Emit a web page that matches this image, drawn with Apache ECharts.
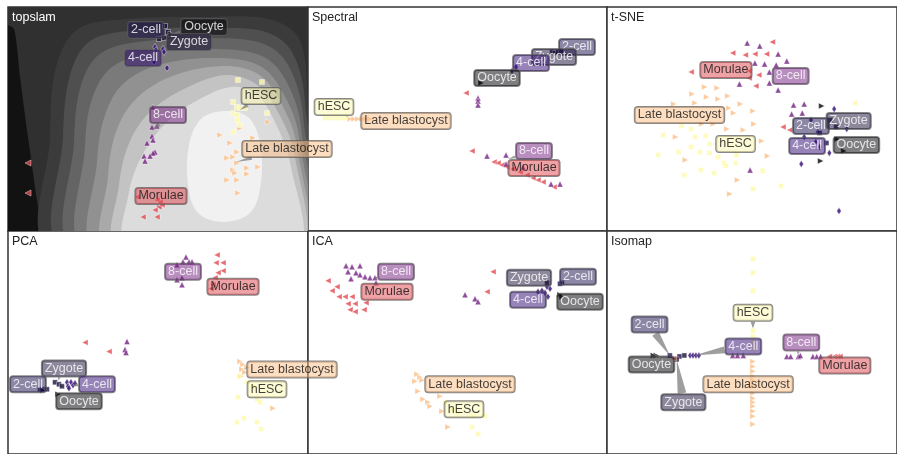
<!DOCTYPE html>
<html>
<head>
<meta charset="utf-8">
<script src="https://cdn.jsdelivr.net/npm/echarts@6/dist/echarts.min.js"></script>
<style>
  html, body { margin: 0; padding: 0; background: #fff; }
  #chart { width: 897px; height: 454px; }
</style>
</head>
<body>
<div id="chart"></div>
<script>
// Developmental stages and their colours (magma-like ramp)
const stages = ['Oocyte', 'Zygote', '2-cell', '4-cell', '8-cell', 'Morulae', 'Late blastocyst', 'hESC'];
const stageColors = ['#000004', '#1b1238', '#1d124f', '#300a72', '#721f81', '#e0474f', '#fbbd85', '#fcfaae'];
const stageTextColors = ['#fff', '#fff', '#fff', '#fff', '#fff', '#111', '#111', '#111'];
// marker shape per stage: [symbol, rotation]
const stageMarkers = [['triangle', -90], ['rect', 0], ['rect', 0], ['diamond', 0], ['triangle', 0], ['triangle', 90], ['triangle', -90], ['rect', 0]];

const panelTitles = ['topslam', 'Spectral', 't-SNE', 'PCA', 'ICA', 'Isomap'];

// Embedded cells per method: [stageIndex, x, y]
const topslamCells = [
  [2,157,19],[2,160,25],[1,151,32],[1,156,31],[0,163,27],
  [3,147,40],[3,148,43],[3,155,42],[3,156,45],[3,159,61],[3,146,55],
  [4,145,100],[4,144,120],[4,149,119],[4,144,129],[4,145,133],[4,139,136],[4,147,145],[4,145,146],[4,142,149],[4,136,149],[4,137,154],
  [5,20,156],[5,20,186],[5,149,193],[5,152,195],[5,147,203],[5,151,200],[5,135,210],[5,149,210],[5,129,190],[5,154,198],
  [6,260,115],[6,212,128],[6,222,136],[6,229,145],[6,225,150],[6,219,151],[6,229,156],[6,239,161],[6,225,163],[6,227,166],[6,239,167],[6,219,173],[6,229,173],[6,250,160],[6,230,186],[6,245,131],[6,232,121],
  [7,230,73],[7,254,75],[7,225,95],[7,229,100],[7,232,101],[7,237,101],[7,225,106],[7,229,108],[7,259,106],[7,229,113],[7,225,125],[7,232,118]
];
const spectralCells = [
  [0,173,76],[3,204,64],[3,208,60],[1,244,45],[1,247,46],[2,250,45],[2,253,44],
  [5,158,86],[5,164,144],[5,186,155],[5,190,156],[5,194,158],[5,199,160],[5,205,162],[5,212,165],[5,219,168],[5,225,171],[5,230,173],[5,235,175],[5,246,180],
  [4,170,91],[4,170,94],[4,170,98],[4,179,149],[4,198,148],[4,198,157],[4,243,177],[4,252,177],[4,215,160],
  [6,42,112],[6,46,112],[6,50,112],[6,54,112],[6,58,112],[6,62,112],
  [7,17,111],[7,21,111],[7,25,111],[7,29,111],[7,33,111],[7,37,111]
];
const tsneCells = [
  [5,171,35],[5,130,46],[5,143,48],[5,153,47],[5,165,47],[5,87,65],[5,147,64],[5,157,68],[5,147,71],[5,154,79],[5,182,120],[5,189,123],
  [4,145,36],[4,158,39],[4,177,47],[4,153,56],[4,163,57],[4,175,58],[4,186,54],[4,168,65],[4,137,77],[4,168,76],[4,177,83],[4,193,98],[4,204,97],[4,191,107],[4,202,106],[4,148,163],
  [3,235,102],[3,248,122],[3,211,113],[3,218,125],[3,204,130],[3,216,135],[3,230,146],[3,201,157],[3,240,204],[3,220,140],
  [2,220,126],[2,227,136],[1,231,113],[1,237,120],
  [0,222,99],[0,221,154],[0,238,132],[0,245,144],
  [6,101,80],[6,114,81],[6,88,87],[6,103,90],[6,115,92],[6,125,89],[6,69,97],[6,91,96],[6,138,97],[6,126,101],[6,131,106],[6,151,104],[6,98,117],[6,110,117],[6,124,122],[6,141,123],[6,152,117],[6,71,130],[6,160,134],[6,81,153],[6,166,149],[6,135,173],[6,127,187],
  [7,77,119],[7,87,122],[7,58,128],[7,91,130],[7,102,129],[7,106,137],[7,74,145],[7,87,140],[7,96,145],[7,53,148],[7,106,146],[7,115,150],[7,121,156],[7,133,156],[7,97,163],[7,111,166],[7,123,159],[7,161,164],[7,80,168],[7,151,182],[7,180,179],[7,257,96],[7,134,148]
];
const pcaCells = [
  [4,178,26],[4,175,31],[4,181,31],[4,184,31],[4,169,34],[4,174,47],[4,174,54],[4,169,49],[4,119,111],[4,117,119],[4,118,122],
  [5,209,24],[5,208,32],[5,215,32],[5,215,40],[5,210,42],[5,207,47],[5,205,54],[5,203,58],[5,77,112],[5,101,121],
  [2,32,159],[2,36,159],[2,39,159],[1,47,152],[1,51,154],[1,54,156],
  [3,59,152],[3,60,156],[3,63,152],[3,65,155],[3,61,158],[3,67,153],
  [0,50,164],[0,35,160],
  [6,232,131],[6,235,134],[6,234,139],[6,237,142],[6,233,146],[6,265,178],[6,239,137],
  [7,231,146],[7,239,152],[7,245,156],[7,249,169],[7,252,172],[7,230,167],[7,229,192],[7,236,188],[7,249,192],[7,253,199]
];
const icaCells = [
  [4,38,35],[4,44,36],[4,52,35],[4,40,41],[4,48,42],[4,52,44],[4,57,46],[4,62,47],[4,67,47],[4,43,48],[4,68,52],[4,157,64],[4,167,68],[4,170,71],
  [5,20,50],[5,29,56],[5,24,60],[5,31,66],[5,37,66],[5,44,66],[5,40,73],[5,47,73],[5,58,72],[5,42,79],[5,47,81],[5,56,79],[5,185,41],[5,179,61],
  [3,230,61],[3,234,60],[3,237,62],[3,240,66],[3,242,58],[3,239,56],
  [1,239,52],[2,254,52],[2,252,53],[0,252,64],[0,254,66],
  [6,109,144],[6,112,147],[6,107,151],[6,110,161],[6,115,169],[6,120,172],[6,122,176],[6,132,166],[6,134,181],[6,140,197],[6,114,150],
  [7,137,172],[7,144,179],[7,165,186],[7,177,186],[7,164,197],[7,170,204],[7,149,182]
];
const isomapCells = [
  [7,151,28],[7,151,42],[7,151,60],[7,151,100],[7,151,106],[7,151,112],[7,151,118],
  [6,151,131],[6,151,136],[6,151,141],[6,151,146],[6,151,150],[6,151,156],[6,151,163],[6,151,168],[6,151,172],[6,151,176],[6,151,181],[6,151,186],[6,151,194],
  [0,51,125],[0,48,125],[2,65,125],[2,75,126],[1,72,129],[1,80,125],
  [3,86,125],[3,89,125],[3,92,125],[3,95,125],
  [5,69,128],[5,235,126],[5,238,126],[5,241,126],[5,230,126],
  [4,130,125],[4,135,125],[4,141,125],[4,186,126],[4,190,126],[4,198,126],[4,213,126],[4,217,126],[4,221,126],[4,200,125]
];
const panelCells = [topslamCells, spectralCells, tsneCells, pcaCells, icaCells, isomapCells];

// Stage annotations per method: [stageIndex, labelX, labelY, arrowTipX, arrowTipY]
const topslamNotes = [[2,138,23,157,21],[0,196,20,163,27],[1,181,35,155,32],[3,135,51,151,44],[4,160,108,144,124],[7,253,89,232,103],[6,279,142,228,155],[5,153,189,149,200]];
const spectralNotes = [[2,269,40,252,44],[1,246,50,245,46],[3,223,56,205,63],[0,189,71,173,76],[7,26,100,40,110],[6,98,114,50,112],[4,226,144,200,152],[5,226,161,205,165]];
const tsneNotes = [[5,123,63,150,62],[4,190,69,175,70],[6,75,108,115,110],[7,133,137,120,135],[2,211,119,225,126],[1,250,114,232,118],[3,207,139,215,135],[0,258,138,240,140]];
const pcaNotes = [[4,175,41,178,33],[5,225,56,207,55],[1,56,138,50,150],[2,20,154,35,159],[3,89,154,63,155],[0,71,171,52,162],[6,284,139,236,138],[7,259,159,240,160]];
const icaNotes = [[4,88,41,65,48],[5,79,61,60,65],[1,221,47,240,53],[2,270,46,253,52],[3,220,69,236,62],[0,272,71,253,65],[6,162,154,120,160],[7,156,179,160,185]];
const isomapNotes = [[7,151,82,151,98],[2,44,94,65,125],[3,141,116,90,125],[4,201,112,197,124],[0,46,134,51,125],[5,246,135,225,126],[6,146,154,151,160],[1,79,172,72,129]];
const panelNotes = [topslamNotes, spectralNotes, tsneNotes, pcaNotes, icaNotes, isomapNotes];

// Magnification landscape of the topslam panel: filled contour bands, outermost first
const landscapeShades = ['#121212', '#3b3b3b', '#4f4f4f', '#646464', '#7a7a7a', '#919191', '#a9a9a9', '#c3c3c3', '#dcdcdc', '#f1f1f1'];
const landscapeBands = [
  [[-5,18],[6,22],[12,70],[20,130],[27,180],[33,240],[-5,240]],
  [[42,240],[42,130],[48,60],[70,22],[120,12],[200,10],[260,12],[290,30],[299,80],[299,240]],
  [[55,240],[55,130],[62,68],[82,34],[130,23],[205,21],[258,25],[284,45],[297,95],[297,240]],
  [[66,240],[66,135],[73,78],[93,46],[138,34],[208,31],[256,37],[280,58],[295,108],[295,240]],
  [[77,240],[77,140],[84,92],[104,60],[146,46],[210,42],[254,49],[277,72],[293,120],[293,240]],
  [[88,240],[89,155],[97,108],[116,76],[154,57],[212,51],[252,59],[274,84],[291,130],[292,240]],
  [[99,240],[100,170],[108,125],[127,93],[162,70],[214,59],[250,67],[272,94],[289,140],[291,240]],
  [[110,240],[111,178],[122,134],[143,104],[176,82],[217,68],[248,77],[270,105],[287,150],[290,240]],
  [[120,240],[121,185],[136,145],[160,114],[190,93],[223,80],[248,87],[266,113],[283,160],[288,240]],
  [[216,104],[240,110],[252,135],[253,175],[243,205],[216,215],[190,206],[180,178],[181,138],[193,112]]
];

// Panel frames (pixels)
const frameLeft = [8, 308, 607, 8, 308, 607];
const frameTop = [7, 7, 7, 231, 231, 231];
const frameWidth = [300, 299, 300, 300, 299, 300];
const frameHeight = 224;

const FONT = "'Liberation Sans', Arial, sans-serif";
const NOTE_FONT_SIZE = 12.5;
const NOTE_BOX_H = 18;
const WEDGE_HALF = 5.5;

// text width helper so arrows can start at the box edge
const measureCtx = document.createElement('canvas').getContext('2d');
measureCtx.font = NOTE_FONT_SIZE + 'px ' + FONT;
function noteBoxHalfWidth(text) {
  return (measureCtx.measureText(text).width + 8) / 2;
}

const grids = [], xAxes = [], yAxes = [], titles = [], series = [];
for (let p = 0; p < 6; p++) {
  grids.push({
    left: frameLeft[p], top: frameTop[p], width: frameWidth[p], height: frameHeight,
    show: true, borderColor: '#333', borderWidth: 1.5,
    backgroundColor: p === 0 ? '#303030' : '#fff', containLabel: false
  });
  xAxes.push({ gridIndex: p, type: 'value', min: 0, max: frameWidth[p], show: false });
  yAxes.push({ gridIndex: p, type: 'value', min: 0, max: frameHeight, inverse: true, show: false });
  titles.push({
    text: panelTitles[p], left: frameLeft[p] + 4, top: frameTop[p] + 4, padding: 0,
    textStyle: { fontSize: 12.5, fontWeight: 'normal', color: p === 0 ? '#fff' : '#222', fontFamily: FONT }
  });
}

// topslam landscape
series.push({
  type: 'custom', xAxisIndex: 0, yAxisIndex: 0, clip: true, silent: true, z: 1,
  data: landscapeBands.map((b, i) => [i]),
  renderItem: function (params, api) {
    const band = landscapeBands[params.dataIndex];
    return {
      type: 'polygon',
      shape: { points: band.map(pt => api.coord(pt)), smooth: params.dataIndex === 0 ? 0.2 : 0.35 },
      style: { fill: landscapeShades[params.dataIndex] }
    };
  }
});

for (let p = 0; p < 6; p++) {
  const cells = panelCells[p];
  series.push({
    type: 'scatter', xAxisIndex: p, yAxisIndex: p, z: 3, silent: true,
    data: cells.map(c => ({
      value: [c[1], c[2]],
      symbol: stageMarkers[c[0]][0],
      symbolRotate: stageMarkers[c[0]][1],
      symbolSize: stageMarkers[c[0]][0] === 'diamond' ? [4.5, 7] : (stageMarkers[c[0]][0] === 'rect' ? 5 : 6),
      itemStyle: { color: stageColors[c[0]], borderColor: '#fff', borderWidth: 0.5 }
    }))
  });
  const notes = panelNotes[p];
  // wedge-shaped arrows from the edge of each annotation box to its cluster
  series.push({
    type: 'custom', xAxisIndex: p, yAxisIndex: p, clip: false, silent: true, z: 5,
    data: notes.map(n => [n[1], n[2], n[3], n[4], n[0]]),
    renderItem: function (params, api) {
      const a = api.coord([api.value(0), api.value(1)]);
      const b = api.coord([api.value(2), api.value(3)]);
      const hw = noteBoxHalfWidth(stages[api.value(4)]);
      const hh = NOTE_BOX_H / 2;
      const dx = b[0] - a[0], dy = b[1] - a[1];
      const len = Math.sqrt(dx * dx + dy * dy) || 1;
      const t = Math.min(dx ? hw / Math.abs(dx) : Infinity, dy ? hh / Math.abs(dy) : Infinity);
      if (!(t < 1)) return null;
      const w = WEDGE_HALF * (1 - t);
      const ex = a[0] + dx * t, ey = a[1] + dy * t;
      const nx = -dy / len * w, ny = dx / len * w;
      return {
        type: 'polygon',
        shape: { points: [[ex + nx, ey + ny], [b[0], b[1]], [ex - nx, ey - ny]] },
        style: { fill: 'rgba(120,120,120,0.72)' }
      };
    }
  });
  series.push({
    type: 'scatter', xAxisIndex: p, yAxisIndex: p, z: 10, silent: true, symbolSize: 0,
    data: notes.map(n => ({
      value: [n[1], n[2]],
      name: stages[n[0]],
      label: {
        show: true, position: 'inside', formatter: '{b}',
        fontFamily: FONT, fontSize: NOTE_FONT_SIZE, lineHeight: 14,
        color: stageTextColors[n[0]],
        backgroundColor: echarts.color.modifyAlpha(stageColors[n[0]], 0.63),
        borderColor: 'rgba(90,90,90,0.9)', borderWidth: 1, borderRadius: 3,
        padding: [1, 3, 1, 3]
      }
    }))
  });
}

const chart = echarts.init(document.getElementById('chart'), null, { renderer: 'canvas' });
chart.setOption({
  animation: false,
  backgroundColor: '#fff',
  title: titles,
  grid: grids,
  xAxis: xAxes,
  yAxis: yAxes,
  series: series
});
</script>
</body>
</html>
